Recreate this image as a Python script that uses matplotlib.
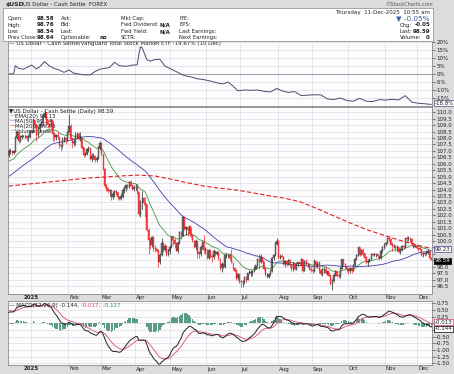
import numpy as np
import pandas as pd
import matplotlib
matplotlib.use('Agg')
import matplotlib.pyplot as plt
from matplotlib.patches import Rectangle

W, H = 454, 374

#%% Data
dates = pd.bdate_range('2024-12-12', '2025-12-11')

# closes before the visible window, only used to warm up the indicators
pre_close = [101.2, 101.7, 101.9, 102.5, 102.5, 102.5, 102.9, 102.9, 102.9, 103.3, 103.2, 103.2, 103.8,
             103.5, 104.0, 104.1, 104.4, 104.1, 104.3, 104.3, 104.3, 104.1, 104.0,
             104.3, 103.9, 103.4, 105.1, 104.5, 105.0, 105.5, 106.0, 106.5, 106.7, 106.7, 106.3,
             106.2, 106.7, 107.0, 107.5, 107.0, 106.9, 106.1, 106.1, 105.7,
             106.4, 106.4, 106.3, 105.7, 106.0, 106.2, 106.4, 106.7]

close = [
    # Dec 2024
    106.95, 106.98, 106.85, 106.95, 108.00, 108.40, 107.80, 108.05, 108.15, 108.15, 108.10, 108.00, 108.10, 108.50,
    # Jan
    108.50, 109.40, 108.95, 108.25, 108.70, 109.05, 109.15, 109.65, 109.95, 109.25, 109.05, 109.00, 109.35,
    108.35, 108.05, 108.20, 108.05, 107.45, 107.35, 107.85, 107.95, 107.85, 108.40,
    # Feb
    108.90, 107.95, 107.60, 107.70, 108.05, 108.30, 107.95, 107.95, 107.25, 106.70, 106.75, 107.10, 107.20,
    106.40, 106.60, 106.60, 106.30, 106.40, 107.25, 107.60,
    # Mar
    106.75, 105.60, 104.30, 104.10, 103.85, 103.90, 103.45, 103.60, 103.85, 103.75, 103.40, 103.25, 103.45,
    103.90, 104.15, 104.30, 104.20, 104.55, 104.30, 104.05, 104.20,
    # Apr
    104.20, 103.80, 102.10, 103.00, 103.30, 102.95, 102.85, 100.85, 100.10, 99.65, 100.25, 99.40, 99.35,
    99.25, 98.35, 98.90, 99.85, 99.30, 99.55, 98.95, 99.25, 99.50,
    # May
    100.25, 100.05, 99.80, 99.25, 99.85, 100.65, 100.35, 101.80, 100.95, 101.05, 100.85, 101.10, 100.40,
    100.05, 99.55, 99.95, 99.10, 98.95, 99.50, 99.90, 99.30, 99.35,
    # Jun
    98.70, 99.25, 98.80, 98.75, 99.20, 98.95, 99.10, 98.65, 97.90, 98.15, 98.00, 98.85, 98.90,
    98.90, 98.70, 98.40, 97.85, 97.70, 97.15, 97.40, 96.85,
    # Jul
    96.80, 96.80, 97.20, 96.95, 97.50, 97.55, 97.55, 97.65, 97.85, 98.10, 98.60, 98.40, 98.70,
    98.45, 97.85, 97.40, 97.20, 97.40, 97.65, 98.65, 98.90, 99.80, 99.95,
    # Aug
    98.70, 98.80, 98.75, 98.20, 98.40, 98.20, 98.50, 98.10, 97.80, 98.25, 97.85, 98.20, 98.30,
    98.25, 98.60, 97.70, 98.40, 98.20, 98.20, 97.80, 97.75,
    # Sep
    97.70, 98.40, 98.15, 98.30, 97.75, 97.45, 97.80, 97.80, 97.55, 97.60, 97.30, 96.65, 96.90,
    97.35, 97.65, 97.30, 97.25, 97.85, 98.55, 98.20, 97.95, 97.80,
    # Oct
    97.70, 97.85, 97.70, 98.10, 98.60, 98.85, 99.50, 98.90, 99.25, 99.00, 98.70, 98.35, 98.45,
    98.60, 98.95, 98.90, 98.95, 98.95, 98.80, 98.70, 99.20, 99.50, 99.75,
    # Nov
    99.85, 100.20, 100.15, 99.70, 99.60, 99.60, 99.45, 99.50, 99.15, 99.30, 99.60, 99.50, 100.20,
    100.15, 100.20, 100.15, 99.80, 99.55, 99.60, 99.45,
    # Dec
    99.40, 99.35, 98.90, 99.05, 98.95, 99.10, 99.20, 98.64, 98.59]

high = [
    107.15, 107.20, 107.05, 107.10, 108.15, 108.55, 108.50, 108.20, 108.30, 108.25, 108.30, 108.25, 108.20, 108.60,
    108.60, 109.55, 109.40, 109.10, 108.90, 109.15, 109.30, 109.95, 110.15, 110.00, 109.45, 109.20, 109.45,
    109.30, 108.40, 108.35, 108.45, 108.10, 107.55, 108.05, 108.15, 108.10, 108.55,
    109.85, 109.10, 108.00, 107.90, 108.45, 108.50, 108.45, 108.50, 108.00, 107.30, 106.90, 107.25, 107.40,
    107.15, 106.80, 106.80, 106.70, 106.60, 107.35, 107.75,
    107.65, 106.70, 105.65, 104.45, 104.20, 104.05, 103.95, 103.85, 103.95, 103.95, 103.80, 103.50, 103.70,
    104.10, 104.25, 104.45, 104.40, 104.65, 104.70, 104.35, 104.35,
    104.40, 104.45, 103.80, 103.20, 103.90, 103.45, 103.40, 102.90, 101.00, 100.25, 100.40, 100.35, 99.65,
    99.45, 99.25, 99.10, 100.25, 99.90, 99.80, 99.60, 99.40, 99.70,
    100.40, 100.35, 100.20, 99.90, 100.00, 100.80, 100.80, 101.95, 101.80, 101.20, 101.10, 101.20, 101.05,
    100.50, 100.10, 100.15, 100.00, 99.20, 99.65, 100.00, 100.50, 99.50,
    99.35, 99.35, 99.30, 99.00, 99.35, 99.20, 99.25, 99.20, 98.70, 98.40, 98.30, 98.95, 99.05,
    99.00, 99.05, 99.40, 98.40, 98.00, 97.70, 97.55, 97.40,
    96.95, 96.95, 97.30, 97.25, 97.55, 97.75, 97.75, 97.70, 98.05, 98.15, 98.70, 98.95, 98.95,
    98.75, 98.45, 97.95, 97.50, 97.55, 97.75, 98.75, 99.00, 99.95, 100.25,
    100.10, 98.95, 98.95, 98.80, 98.50, 98.45, 98.60, 98.60, 98.15, 98.35, 98.30, 98.30, 98.35,
    98.40, 98.70, 98.60, 98.50, 98.60, 98.30, 98.25, 98.00,
    97.90, 98.60, 98.45, 98.40, 98.40, 97.80, 97.90, 97.95, 98.05, 97.70, 97.60, 97.30, 97.05,
    97.50, 97.75, 97.70, 97.50, 97.90, 98.60, 98.60, 98.30, 98.05,
    97.90, 97.95, 97.95, 98.25, 98.65, 98.95, 99.55, 99.55, 99.35, 99.45, 99.05, 98.70, 98.60,
    98.70, 99.05, 99.05, 99.10, 99.10, 99.00, 98.90, 99.35, 99.60, 99.85,
    99.95, 100.30, 100.35, 100.20, 99.90, 99.80, 99.65, 99.65, 99.55, 99.45, 99.70, 99.70, 100.25,
    100.35, 100.40, 100.25, 100.20, 99.85, 99.70, 99.75,
    99.55, 99.50, 99.40, 99.10, 99.15, 99.20, 99.35, 99.25, 98.76]

low = [
    106.55, 106.75, 106.70, 106.75, 106.90, 107.90, 107.60, 107.70, 107.95, 108.05, 107.95, 107.80, 107.75, 108.00,
    108.40, 108.45, 108.75, 107.75, 108.10, 108.50, 108.90, 108.95, 109.55, 109.10, 108.80, 108.75, 108.90,
    107.75, 107.80, 107.85, 107.95, 107.20, 107.00, 107.25, 107.70, 107.55, 107.75,
    108.45, 107.85, 107.25, 107.40, 107.45, 107.95, 107.85, 107.80, 107.15, 106.55, 106.60, 106.65, 106.95,
    106.30, 106.10, 106.35, 106.10, 106.15, 106.35, 107.10,
    106.60, 105.50, 104.15, 103.85, 103.70, 103.50, 103.20, 103.30, 103.45, 103.55, 103.25, 103.20, 103.20,
    103.35, 103.75, 103.90, 104.05, 104.15, 104.25, 103.95, 103.90,
    103.95, 103.65, 101.95, 101.90, 102.45, 102.80, 101.90, 100.75, 99.00, 99.35, 99.50, 99.25, 99.15,
    99.15, 97.95, 98.20, 98.85, 99.15, 99.20, 98.85, 98.85, 98.95,
    99.45, 99.70, 99.45, 99.20, 99.10, 99.75, 100.15, 100.40, 100.85, 100.50, 100.35, 100.60, 100.20,
    99.95, 99.45, 99.30, 98.70, 98.70, 98.80, 99.40, 99.10, 99.00,
    98.60, 98.60, 98.70, 98.35, 98.60, 98.85, 98.90, 98.55, 97.75, 97.60, 97.80, 97.90, 98.65,
    98.70, 98.55, 98.30, 97.75, 97.60, 96.95, 97.00, 96.75,
    96.40, 96.40, 96.65, 96.85, 96.95, 97.40, 97.25, 97.25, 97.60, 97.80, 97.95, 97.85, 98.30,
    98.35, 97.75, 97.30, 97.10, 97.15, 97.30, 97.60, 98.55, 98.80, 99.65,
    98.60, 98.60, 98.65, 98.10, 97.95, 98.05, 98.10, 97.95, 97.65, 97.65, 97.75, 97.75, 98.05,
    98.05, 98.15, 97.60, 97.65, 98.10, 97.95, 97.75, 97.60,
    97.55, 97.60, 98.00, 97.90, 97.55, 97.35, 97.25, 97.50, 97.45, 97.35, 97.25, 96.55, 96.20,
    96.80, 97.25, 97.20, 97.10, 97.15, 97.80, 98.05, 97.85, 97.60,
    97.40, 97.55, 97.55, 97.70, 98.05, 98.55, 98.80, 98.80, 98.90, 98.85, 98.55, 98.25, 98.05,
    98.35, 98.55, 98.80, 98.80, 98.75, 98.70, 98.55, 98.60, 99.10, 99.40,
    99.60, 99.80, 100.00, 99.65, 99.25, 99.45, 99.25, 99.20, 99.05, 98.95, 99.25, 99.35, 99.45,
    99.95, 100.00, 99.95, 99.70, 99.45, 99.50, 99.35,
    99.20, 99.20, 98.80, 98.75, 98.85, 98.90, 98.95, 98.55, 98.54]

# 200-day MA, read every 10 bars
ma200_idx = list(range(0, 261, 10))
ma200 = [104.27, 104.40, 104.52, 104.65, 104.78, 104.90, 104.98, 105.06, 105.12, 105.05, 104.80, 104.52,
         104.27, 104.10, 103.96, 103.75, 103.52, 103.32, 103.02, 102.50, 101.95, 101.40, 100.90, 100.48,
         100.08, 99.72, 99.42]

# USD / VTI relative performance (%)
rel_idx = [0, 3, 4, 6, 9, 12, 14, 17, 19, 22, 25, 28, 31, 34, 37, 40, 43, 46, 50, 53, 56, 59, 62, 65,
           68, 72, 76, 79, 80, 81, 82, 83, 85, 87, 90, 93, 96, 100, 104, 108, 112, 116, 120, 124, 128,
           132, 135, 138, 141, 145, 149, 153, 157, 161, 165, 168, 172, 176, 180, 184, 188, 192, 196, 200,
           204, 208, 212, 216, 220, 224, 228, 232, 236, 240, 244, 248, 252, 256, 260]
rel_pct = [0.0, 0.2, 5.2, 3.5, 3.0, 4.5, 5.6, 3.2, 4.5, 7.7, 5.0, 3.5, 2.5, 1.0, 2.5, 0.5, 0.0, -0.5,
           -0.6, 1.5, 3.0, 3.5, 4.0, 7.3, 5.2, 4.8, 5.5, 5.8, 12.0, 17.0, 16.5, 14.0, 9.0, 8.0, 9.0,
           9.2, 5.0, 3.0, 1.0, -1.0, -1.8, -3.0, -3.5, -4.4, -5.5, -6.2, -5.0, -7.5, -10.5, -10.0,
           -10.2, -10.0, -10.8, -11.2, -9.0, -10.5, -11.5, -11.0, -13.5, -13.2, -13.0, -13.0, -15.5,
           -16.0, -15.0, -16.5, -17.0, -15.2, -17.0, -17.2, -16.0, -16.3, -15.8, -16.2, -13.5, -17.5,
           -18.3, -18.6, -19.0]

#%% Indicators
n_pre = len(pre_close)
full = pd.Series(pre_close + close)
ema20 = full.ewm(span=20, adjust=False).mean().to_numpy()[n_pre:]
ma50 = full.rolling(50, min_periods=1).mean().to_numpy()[n_pre:]
macd_full = full.ewm(span=12, adjust=False).mean() - full.ewm(span=26, adjust=False).mean()
signal_full = macd_full.ewm(span=9, adjust=False).mean()
macd = macd_full.to_numpy()[n_pre:]
signal = signal_full.to_numpy()[n_pre:]
hist = macd - signal

close = np.array(close)
high = np.array(high)
low = np.array(low)
opn = np.r_[pre_close[-1], close[:-1]]
x = np.arange(len(close))

month_start = [i for i in range(1, len(dates)) if dates[i].month != dates[i - 1].month]
month_lab = ['2025' if dates[i].month == 1 else dates[i].strftime('%b') for i in month_start]

#%% Figure
BG = '#dcdcdc'
PANEL = '#fcfcfe'
GRID = '#dcdce2'
TXT = '#222222'
FS = 4.0

fig = plt.figure(figsize=(W / 100, H / 100), dpi=100, facecolor=BG)


def rect(x0, y0, x1, y1):
    return [x0 / W, 1 - y1 / H, (x1 - x0) / W, (y1 - y0) / H]


def style(ax, ticks, fmt, skip=()):
    ax.set_facecolor(PANEL)
    ax.set_xlim(-0.5, len(close) - 0.5)
    ax.yaxis.tick_right()
    ax.tick_params(axis='y', labelsize=FS, length=2, width=0.4, pad=1, colors=TXT)
    ax.tick_params(axis='x', bottom=False, labelbottom=False)
    for s in ax.spines.values():
        s.set_color('#8a8a8a')
        s.set_linewidth(0.6)
    for m in month_start:
        ax.axvline(m - 0.5, color=GRID, lw=0.5, zorder=0)
    for t in ticks:
        ax.axhline(t, color=GRID, lw=0.5, zorder=0)
    # tick labels hidden under the value boxes on the right
    ax.set_yticks(ticks, ['' if any(abs(t - s) < d for s, d in skip) else fmt(t) for t in ticks])


def value_box(ax, val, txt, ec, fc='white', tc=TXT):
    ax.annotate(txt, xy=(1, val), xycoords=('axes fraction', 'data'), xytext=(2.2, 0),
                textcoords='offset points', fontsize=FS, va='center', color=tc, annotation_clip=False,
                bbox=dict(boxstyle='square,pad=0.12', fc=fc, ec=ec, lw=0.5))


# header box
fig.patches.append(Rectangle((3 / W, 1 - 41 / H), 430 / W, 33 / H, transform=fig.transFigure,
                             facecolor='white', edgecolor='#9a9a9a', lw=0.6))
fig.text(5 / W, 1 - 4.8 / H, '$USD', fontsize=4.4, weight='bold', va='center', color=TXT)
fig.text(23 / W, 1 - 4.8 / H, 'US Dollar - Cash Settle  FOREX', fontsize=FS, va='center', color=TXT)
fig.text(433 / W, 1 - 4 / H, '\u00a9StockCharts.com', fontsize=3.6, va='center', ha='right', color='#555555')

rows = [18.3, 25, 31.7, 37.7]
cols = [
    (8, ['Open:', 'High:', 'Low:', 'Prev Close:'], 37, ['98.58', '98.76', '98.54', '98.64']),
    (61, ['Ask:', 'Bid:', 'Last:', 'Optionable:'], 100, ['', '', '', 'no']),
    (121, ['Mkt Cap:', 'Fwd Dividend:', 'Fwd Yield:', 'SCTR:'], 159, ['', 'N/A', 'N/A', '']),
    (179, ['P/E:', 'EPS:', 'Last Earnings:', 'Next Earnings:'], 0, ['', '', '', '']),
]
for lx, labs, vx, vals in cols:
    for r, lab, val in zip(rows, labs, vals):
        fig.text(lx / W, 1 - r / H, lab, fontsize=3.8, va='center', color=TXT)
        if val:
            fig.text(vx / W, 1 - r / H, val, fontsize=FS, va='center', weight='bold', color=TXT)

fig.text(430 / W, 1 - 12.3 / H, 'Thursday  11-Dec-2025  10:55 am', fontsize=FS, va='center', ha='right',
         color=TXT)
fig.text(430 / W, 1 - 18.5 / H, '\u25bc -0.05%', fontsize=5.2, va='center', ha='right', color='#3a5ea8')
for r, lab, val in zip(rows[1:], ['Chg:', 'Last:', 'Volume:'], ['-0.05', '98.59', '0']):
    fig.text(400 / W, 1 - r / H, lab, fontsize=3.8, va='center', ha='left', color=TXT)
    fig.text(430 / W, 1 - r / H, val, fontsize=FS, va='center', ha='right', weight='bold', color=TXT)

# relative performance panel
ax1 = fig.add_axes(rect(8, 41, 432, 106.5))
rel_ticks = [20, 15, 10, 5, 0, -5, -10, -15]
style(ax1, rel_ticks, lambda t: f'{t}%')
ax1.set_ylim(-20.3, 20.6)
ax1.plot(rel_idx, rel_pct, color='#44506f', lw=0.7)
ax1.axhline(0, color='#a0a0a6', lw=0.7, zorder=1)
ax1.text(0.003, 0.955, '\u2014 US Dollar - Cash Settle/Vanguard Total Stock Market ETF -19.67% (10 Dec)',
         transform=ax1.transAxes, fontsize=FS, va='center', color=TXT)
value_box(ax1, -18.3, '-18.8%', '#44506f')

# price panel
ax2 = fig.add_axes(rect(8, 106.5, 432, 294))
p_ticks = list(np.arange(96.5, 110.01, 0.5))
style(ax2, p_ticks, lambda t: f'{t:.1f}', skip=[(ma50[-1], 0.3), (close[-1], 0.3)])
ax2.set_ylim(95.88, 110.45)

up = close >= opn
col = np.where(up, '#111111', '#ee1111')
ax2.vlines(x, low, high, colors=col, lw=0.45, zorder=3)
ax2.bar(x, np.abs(close - opn) + 0.03, bottom=np.minimum(close, opn), width=0.6,
        color=np.where(up, '#8a8a8a', '#f04848'), edgecolor=col, lw=0.25, zorder=4)
ax2.plot(x, ema20, color='#3f9a3f', lw=0.6, zorder=2)
ax2.plot(x, ma50, color='#4040a8', lw=0.6, zorder=2)
ax2.plot(ma200_idx, ma200, color='#e52020', lw=0.8, dashes=(4, 2), zorder=2)

ax2.text(0.003, 0.975, '\u25bcUS Dollar - Cash Settle (Daily) 98.59', transform=ax2.transAxes,
         fontsize=FS, va='center', color=TXT)
leg = [('EMA(20) 99.13', '#3f9a3f'), ('MA(50) 99.24', '#4040a8'), ('MA(200) 99.46', '#e52020'),
       ('Volume undef', '#3f9a3f')]
for k, (t, c) in enumerate(leg):
    ax2.text(0.003, 0.948 - k * 0.0265, '\u2014', transform=ax2.transAxes, fontsize=FS, va='center', color=c)
    ax2.text(0.017, 0.948 - k * 0.0265, t, transform=ax2.transAxes, fontsize=FS, va='center', color=TXT)
value_box(ax2, ma50[-1] + 0.12, f'{ma50[-1]:.2f}', '#4040a8')
value_box(ax2, close[-1] - 0.12, f'{close[-1]:.2f}', 'black', fc='black', tc='white')

# MACD panel
ax3 = fig.add_axes(rect(8, 300.5, 432, 365))
m_ticks = [0.75, 0.5, 0.25, 0.0, -0.25, -0.5, -0.75, -1.0, -1.25, -1.5]
style(ax3, m_ticks, lambda t: f'{t:.2f}', skip=[(signal[-1], 0.2), (macd[-1], 0.2)])
ax3.set_ylim(-1.56, 0.85)
ax3.bar(x, hist, width=0.8, color='#5a9c86', zorder=2)
ax3.plot(x, signal, color='#e06080', lw=0.7, zorder=3)
ax3.plot(x, macd, color='#222222', lw=0.7, zorder=4)
t1 = ax3.text(0.003, 0.93, '\u2014 MACD(12,26,9) -0.144,', transform=ax3.transAxes, fontsize=FS,
              va='center', color=TXT)
t2 = ax3.annotate(' -0.017,', xy=(1, 0.5), xycoords=t1, fontsize=FS, va='center', color='#d04060')
ax3.annotate(' -0.127', xy=(1, 0.5), xycoords=t2, fontsize=FS, va='center', color='#3f8a6f')
value_box(ax3, signal[-1] + 0.05, f'{signal[-1]:.3f}', '#d04060')
value_box(ax3, macd[-1] - 0.06, f'{macd[-1]:.3f}', 'black')

# month labels under price and MACD panels
for m, lab in zip(month_start, month_lab):
    xg = 8 + m / len(close) * 424
    for yy in (297.5, 369):
        if lab == '2025':
            fig.text(xg / W, 1 - yy / H, lab, fontsize=FS, va='center', ha='center', weight='bold', color=TXT)
        else:
            fig.text((xg + 1) / W, 1 - yy / H, lab, fontsize=FS, va='center', ha='left', color=TXT)

fig.savefig('out.png', dpi=100, facecolor=BG)
